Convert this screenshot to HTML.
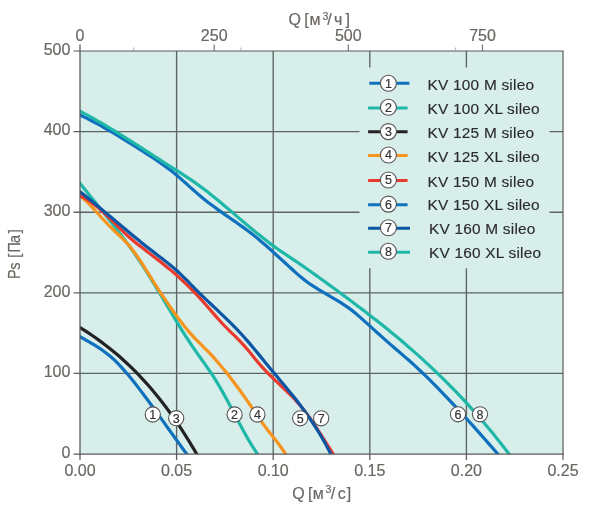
<!DOCTYPE html>
<html lang="ru">
<head>
<meta charset="utf-8">
<title>KV sileo</title>
<style>
html,body{margin:0;padding:0;background:#fff;}
body{width:600px;height:516px;overflow:hidden;}
svg{display:block;}
text{font-family:"Liberation Sans",sans-serif;}
.tick{font-size:16px;fill:#6b6763;stroke:#6b6763;stroke-width:0.2;}
.ttl{font-size:16px;fill:#6b6763;stroke:#6b6763;stroke-width:0.2;}
.leg{font-size:15.4px;fill:#2b2b2b;stroke:#2b2b2b;stroke-width:0.15;letter-spacing:0.22px;}
.num{font-size:12.5px;fill:#333;stroke:#333;stroke-width:0.2;text-anchor:middle;}
.grid{stroke:#5c6463;stroke-width:1.35;fill:none;}
.c{fill:none;stroke-width:3.2;stroke-linecap:butt;stroke-linejoin:round;}
</style>
</head>
<body>
<svg width="600" height="516" viewBox="0 0 600 516">
<rect x="0" y="0" width="600" height="516" fill="#fff"/>
<rect x="80.0" y="51.0" width="483.0" height="403.0" fill="#d8eeea"/>
<g class="grid">
<line x1="176.60" y1="51.0" x2="176.60" y2="460.0"/>
<line x1="273.20" y1="51.0" x2="273.20" y2="460.0"/>
<line x1="369.80" y1="51.0" x2="369.80" y2="460.0"/>
<line x1="466.40" y1="51.0" x2="466.40" y2="460.0"/>
<line x1="73.5" y1="373.40" x2="563.0" y2="373.40"/>
<line x1="73.5" y1="292.80" x2="563.0" y2="292.80"/>
<line x1="73.5" y1="212.20" x2="563.0" y2="212.20"/>
<line x1="73.5" y1="131.60" x2="563.0" y2="131.60"/>
</g>
<clipPath id="cp"><rect x="80.0" y="51.0" width="483.0" height="403.0"/></clipPath>
<g clip-path="url(#cp)">
<path class="c" stroke="#0f70bd" d="M76.00 334.43 C76.67 334.81 78.35 335.78 80.00 336.73 C81.65 337.68 83.95 339.00 85.93 340.14 C87.90 341.28 89.88 342.38 91.86 343.55 C93.83 344.72 95.81 345.89 97.78 347.16 C99.76 348.43 101.74 349.74 103.71 351.18 C105.69 352.62 107.66 354.14 109.64 355.80 C111.61 357.47 113.59 359.26 115.57 361.18 C117.54 363.10 119.52 365.15 121.49 367.30 C123.47 369.45 125.45 371.74 127.42 374.07 C129.40 376.40 131.37 378.84 133.35 381.31 C135.33 383.78 137.30 386.31 139.28 388.87 C141.25 391.44 143.23 394.06 145.21 396.70 C147.18 399.34 149.16 402.02 151.13 404.72 C153.11 407.42 155.09 410.15 157.06 412.89 C159.04 415.63 161.01 418.39 162.99 421.15 C164.96 423.91 166.94 426.69 168.92 429.45 C170.89 432.21 172.87 434.98 174.84 437.73 C176.82 440.47 178.80 443.21 180.77 445.92 C182.75 448.64 185.22 451.98 186.70 453.99 C188.18 456.00 189.15 457.32 189.64 457.99"/>
<path class="c" stroke="#222222" d="M76.00 324.95 C76.67 325.38 78.31 326.42 80.00 327.50 C81.69 328.58 84.09 330.08 86.14 331.41 C88.19 332.75 90.24 334.12 92.28 335.52 C94.33 336.93 96.38 338.37 98.43 339.85 C100.47 341.33 102.52 342.85 104.57 344.42 C106.62 345.98 108.66 347.58 110.71 349.23 C112.76 350.89 114.81 352.58 116.85 354.32 C118.90 356.07 120.95 357.86 122.99 359.71 C125.04 361.56 127.09 363.45 129.14 365.40 C131.18 367.36 133.23 369.36 135.28 371.43 C137.33 373.50 139.37 375.62 141.42 377.80 C143.47 379.99 145.52 382.23 147.56 384.55 C149.61 386.86 151.66 389.23 153.71 391.67 C155.75 394.12 157.80 396.63 159.85 399.21 C161.89 401.79 163.94 404.44 165.99 407.17 C168.04 409.90 170.08 412.70 172.13 415.57 C174.18 418.45 176.23 421.40 178.27 424.44 C180.32 427.48 182.37 430.59 184.42 433.79 C186.46 436.99 188.51 440.27 190.56 443.64 C192.61 447.01 195.28 451.61 196.70 454.01 C198.12 456.40 198.67 457.34 199.07 458.01"/>
<path class="c" stroke="#1fb8a8" d="M76.00 178.26 C76.67 179.10 78.35 181.21 80.00 183.29 C81.65 185.37 83.94 188.26 85.92 190.73 C87.89 193.19 89.86 195.63 91.83 198.08 C93.81 200.52 95.78 202.95 97.75 205.39 C99.72 207.83 101.69 210.27 103.67 212.73 C105.64 215.19 107.61 217.65 109.58 220.15 C111.56 222.64 113.53 225.15 115.50 227.70 C117.47 230.25 119.44 232.82 121.42 235.44 C123.39 238.06 125.36 240.71 127.33 243.42 C129.31 246.13 131.28 248.88 133.25 251.70 C135.22 254.52 137.19 257.39 139.17 260.34 C141.14 263.28 143.11 266.30 145.08 269.38 C147.06 272.46 149.03 275.63 151.00 278.83 C152.97 282.03 154.94 285.29 156.92 288.56 C158.89 291.84 160.86 295.16 162.83 298.47 C164.81 301.79 166.78 305.13 168.75 308.44 C170.72 311.75 172.69 315.07 174.67 318.34 C176.64 321.61 178.61 324.88 180.58 328.07 C182.56 331.26 184.53 334.42 186.50 337.48 C188.47 340.55 190.44 343.55 192.42 346.46 C194.39 349.36 196.36 352.13 198.33 354.91 C200.31 357.69 202.28 360.37 204.25 363.16 C206.22 365.94 208.19 368.70 210.17 371.64 C212.14 374.59 214.11 377.61 216.08 380.81 C218.06 384.02 220.03 387.40 222.00 390.88 C223.97 394.36 225.94 398.02 227.92 401.68 C229.89 405.35 231.86 409.13 233.83 412.86 C235.81 416.59 237.78 420.38 239.75 424.05 C241.72 427.72 243.69 431.39 245.67 434.88 C247.64 438.37 249.61 441.80 251.58 444.99 C253.56 448.18 256.08 451.84 257.50 454.01 C258.92 456.18 259.69 457.34 260.12 458.01"/>
<path class="c" stroke="#f7941e" d="M76.00 192.40 C76.67 192.96 78.33 194.37 80.00 195.79 C81.67 197.21 84.03 199.04 86.05 200.92 C88.06 202.80 90.08 204.93 92.09 207.07 C94.11 209.21 96.13 211.52 98.14 213.75 C100.16 215.99 102.17 218.31 104.19 220.48 C106.20 222.65 108.22 224.76 110.24 226.78 C112.25 228.79 114.27 230.63 116.28 232.56 C118.30 234.49 120.31 236.33 122.33 238.37 C124.35 240.42 126.36 242.48 128.38 244.82 C130.39 247.17 132.41 249.72 134.42 252.45 C136.44 255.17 138.45 258.14 140.47 261.16 C142.49 264.19 144.50 267.39 146.52 270.57 C148.53 273.75 150.55 277.05 152.56 280.26 C154.58 283.46 156.60 286.69 158.61 289.81 C160.63 292.93 162.64 295.98 164.66 298.97 C166.67 301.96 168.69 304.88 170.71 307.75 C172.72 310.61 174.74 313.42 176.75 316.16 C178.77 318.90 180.78 321.61 182.80 324.19 C184.82 326.76 186.83 329.27 188.85 331.62 C190.86 333.97 192.88 336.15 194.89 338.29 C196.91 340.43 198.93 342.40 200.94 344.43 C202.96 346.47 204.97 348.41 206.99 350.48 C209.00 352.55 211.02 354.64 213.04 356.85 C215.05 359.06 217.07 361.36 219.08 363.72 C221.10 366.09 223.11 368.54 225.13 371.05 C227.15 373.55 229.16 376.13 231.18 378.76 C233.19 381.39 235.21 384.08 237.22 386.81 C239.24 389.54 241.25 392.31 243.27 395.13 C245.29 397.96 247.30 400.83 249.32 403.76 C251.33 406.69 253.35 409.74 255.36 412.72 C257.38 415.69 259.40 418.76 261.41 421.60 C263.43 424.44 265.44 427.13 267.46 429.76 C269.47 432.39 271.49 434.81 273.51 437.39 C275.52 439.96 277.54 442.45 279.55 445.22 C281.57 447.99 284.13 451.86 285.60 453.99 C287.07 456.12 287.90 457.33 288.36 457.99"/>
<path class="c" stroke="#e93a30" d="M76.00 193.79 C76.67 194.12 78.33 194.96 80.00 195.80 C81.67 196.64 84.02 197.66 86.03 198.84 C88.04 200.02 90.05 201.39 92.06 202.86 C94.07 204.32 96.08 205.96 98.09 207.65 C100.10 209.34 102.10 211.17 104.11 213.02 C106.12 214.87 108.13 216.82 110.14 218.76 C112.15 220.70 114.16 222.71 116.17 224.67 C118.18 226.64 120.19 228.64 122.20 230.56 C124.21 232.49 126.22 234.40 128.23 236.22 C130.24 238.04 132.25 239.78 134.26 241.47 C136.27 243.16 138.28 244.75 140.29 246.34 C142.30 247.92 144.30 249.44 146.31 250.97 C148.32 252.50 150.33 253.99 152.34 255.51 C154.35 257.04 156.36 258.56 158.37 260.12 C160.38 261.69 162.39 263.27 164.40 264.90 C166.41 266.53 168.42 268.19 170.43 269.89 C172.44 271.59 174.45 273.32 176.46 275.11 C178.47 276.89 180.48 278.72 182.49 280.59 C184.50 282.47 186.50 284.39 188.51 286.37 C190.52 288.35 192.53 290.37 194.54 292.46 C196.55 294.55 198.56 296.70 200.57 298.90 C202.58 301.10 204.59 303.39 206.60 305.67 C208.61 307.96 210.62 310.30 212.63 312.60 C214.64 314.90 216.65 317.22 218.66 319.45 C220.67 321.69 222.68 323.90 224.69 326.00 C226.70 328.10 228.70 330.06 230.71 332.04 C232.72 334.02 234.73 335.86 236.74 337.87 C238.75 339.87 240.76 341.87 242.77 344.07 C244.78 346.27 246.79 348.68 248.80 351.08 C250.81 353.49 252.82 356.07 254.83 358.50 C256.84 360.93 258.85 363.39 260.86 365.66 C262.87 367.93 264.88 370.05 266.89 372.12 C268.90 374.18 270.90 376.12 272.91 378.06 C274.92 380.00 276.93 381.86 278.94 383.77 C280.95 385.68 282.96 387.56 284.97 389.51 C286.98 391.46 288.99 393.42 291.00 395.49 C293.01 397.55 295.02 399.66 297.03 401.91 C299.04 404.17 301.05 406.49 303.06 409.00 C305.07 411.50 307.08 414.16 309.09 416.94 C311.10 419.72 313.10 422.69 315.11 425.70 C317.12 428.70 319.13 431.85 321.14 434.98 C323.15 438.12 325.16 441.35 327.17 444.51 C329.18 447.68 331.77 451.75 333.20 454.00 C334.63 456.25 335.32 457.33 335.74 458.00"/>
<path class="c" stroke="#0b56a4" d="M76.00 188.47 C76.67 189.01 78.34 190.35 80.00 191.68 C81.66 193.02 83.98 194.86 85.97 196.47 C87.96 198.08 89.95 199.71 91.94 201.34 C93.93 202.97 95.92 204.61 97.91 206.26 C99.90 207.91 101.90 209.57 103.89 211.23 C105.88 212.89 107.87 214.56 109.86 216.23 C111.85 217.90 113.84 219.57 115.83 221.24 C117.82 222.91 119.81 224.58 121.80 226.24 C123.79 227.91 125.78 229.57 127.77 231.22 C129.76 232.88 131.75 234.53 133.74 236.17 C135.73 237.81 137.72 239.44 139.71 241.06 C141.70 242.68 143.70 244.29 145.69 245.88 C147.68 247.47 149.67 249.05 151.66 250.62 C153.65 252.18 155.64 253.71 157.63 255.25 C159.62 256.78 161.61 258.27 163.60 259.82 C165.59 261.36 167.58 262.89 169.57 264.51 C171.56 266.13 173.55 267.78 175.54 269.54 C177.53 271.30 179.52 273.16 181.51 275.07 C183.50 276.98 185.50 278.99 187.49 280.99 C189.48 282.99 191.47 285.05 193.46 287.06 C195.45 289.07 197.44 291.08 199.43 293.04 C201.42 295.00 203.41 296.92 205.40 298.83 C207.39 300.75 209.38 302.63 211.37 304.51 C213.36 306.40 215.35 308.27 217.34 310.16 C219.33 312.05 221.32 313.93 223.31 315.85 C225.30 317.77 227.30 319.70 229.29 321.67 C231.28 323.64 233.27 325.64 235.26 327.69 C237.25 329.75 239.24 331.84 241.23 334.00 C243.22 336.17 245.21 338.40 247.20 340.67 C249.19 342.95 251.18 345.30 253.17 347.66 C255.16 350.03 257.15 352.44 259.14 354.86 C261.13 357.27 263.12 359.72 265.11 362.15 C267.10 364.58 269.10 367.02 271.09 369.42 C273.08 371.83 275.07 374.21 277.06 376.59 C279.05 378.97 281.04 381.33 283.03 383.72 C285.02 386.11 287.01 388.50 289.00 390.93 C290.99 393.37 292.98 395.83 294.97 398.36 C296.96 400.88 298.95 403.45 300.94 406.10 C302.93 408.76 304.92 411.47 306.91 414.30 C308.90 417.12 310.90 420.02 312.89 423.06 C314.88 426.10 316.87 429.23 318.86 432.51 C320.85 435.80 322.84 439.20 324.83 442.77 C326.82 446.35 329.45 451.44 330.80 453.97 C332.15 456.50 332.58 457.30 332.93 457.97"/>
<path class="c" stroke="#0f70bd" d="M76.00 113.06 C76.67 113.38 78.34 114.20 80.00 115.01 C81.66 115.82 83.98 116.92 85.97 117.91 C87.96 118.91 89.95 119.93 91.94 120.97 C93.93 122.02 95.92 123.09 97.91 124.17 C99.90 125.26 101.88 126.37 103.87 127.50 C105.86 128.63 107.85 129.78 109.84 130.94 C111.83 132.10 113.82 133.29 115.81 134.48 C117.80 135.67 119.79 136.88 121.78 138.10 C123.77 139.31 125.76 140.55 127.75 141.78 C129.74 143.02 131.73 144.27 133.72 145.52 C135.71 146.77 137.70 148.03 139.69 149.30 C141.68 150.56 143.66 151.82 145.65 153.10 C147.64 154.37 149.63 155.65 151.62 156.96 C153.61 158.26 155.60 159.58 157.59 160.94 C159.58 162.30 161.57 163.68 163.56 165.11 C165.55 166.54 167.54 168.01 169.53 169.53 C171.52 171.06 173.51 172.63 175.50 174.26 C177.49 175.90 179.48 177.62 181.47 179.35 C183.46 181.09 185.44 182.89 187.43 184.68 C189.42 186.46 191.41 188.28 193.40 190.04 C195.39 191.80 197.38 193.57 199.37 195.26 C201.36 196.94 203.35 198.58 205.34 200.16 C207.33 201.75 209.32 203.27 211.31 204.77 C213.30 206.27 215.29 207.71 217.28 209.15 C219.27 210.59 221.26 211.98 223.25 213.38 C225.24 214.78 227.22 216.15 229.21 217.53 C231.20 218.92 233.19 220.29 235.18 221.68 C237.17 223.08 239.16 224.47 241.15 225.90 C243.14 227.33 245.13 228.77 247.12 230.26 C249.11 231.75 251.10 233.27 253.09 234.84 C255.08 236.41 257.07 238.03 259.06 239.69 C261.05 241.35 263.04 243.05 265.03 244.78 C267.02 246.50 269.00 248.27 270.99 250.05 C272.98 251.83 274.97 253.63 276.96 255.45 C278.95 257.26 280.94 259.09 282.93 260.92 C284.92 262.75 286.91 264.59 288.90 266.41 C290.89 268.23 292.88 270.07 294.87 271.83 C296.86 273.60 298.85 275.35 300.84 277.00 C302.83 278.64 304.82 280.22 306.81 281.70 C308.80 283.18 310.78 284.54 312.77 285.86 C314.76 287.19 316.75 288.41 318.74 289.63 C320.73 290.84 322.72 291.99 324.71 293.15 C326.70 294.31 328.69 295.42 330.68 296.58 C332.67 297.73 334.66 298.87 336.65 300.08 C338.64 301.28 340.63 302.50 342.62 303.80 C344.61 305.11 346.60 306.45 348.59 307.91 C350.58 309.36 352.56 310.91 354.55 312.52 C356.54 314.14 358.53 315.85 360.52 317.59 C362.51 319.32 364.50 321.13 366.49 322.92 C368.48 324.72 370.47 326.55 372.46 328.36 C374.45 330.18 376.44 331.99 378.43 333.79 C380.42 335.59 382.41 337.39 384.40 339.16 C386.39 340.92 388.38 342.68 390.37 344.41 C392.36 346.13 394.34 347.82 396.33 349.53 C398.32 351.23 400.31 352.91 402.30 354.62 C404.29 356.34 406.28 358.06 408.27 359.82 C410.26 361.58 412.25 363.37 414.24 365.19 C416.23 367.02 418.22 368.87 420.21 370.75 C422.20 372.63 424.19 374.54 426.18 376.47 C428.17 378.40 430.16 380.36 432.15 382.35 C434.14 384.33 436.12 386.34 438.11 388.37 C440.10 390.40 442.09 392.45 444.08 394.52 C446.07 396.59 448.06 398.69 450.05 400.80 C452.04 402.91 454.03 405.04 456.02 407.18 C458.01 409.33 460.00 411.49 461.99 413.67 C463.98 415.84 465.97 418.03 467.96 420.24 C469.95 422.44 471.94 424.66 473.93 426.88 C475.92 429.11 477.90 431.35 479.89 433.59 C481.88 435.84 483.87 438.10 485.86 440.36 C487.85 442.62 489.84 444.89 491.83 447.16 C493.82 449.44 496.22 452.19 497.80 454.00 C499.38 455.81 500.71 457.33 501.29 458.00"/>
<path class="c" stroke="#1fb8a8" d="M76.00 109.19 C76.67 109.54 78.34 110.42 80.00 111.29 C81.66 112.16 83.97 113.36 85.96 114.42 C87.94 115.49 89.93 116.57 91.92 117.67 C93.90 118.78 95.89 119.90 97.88 121.03 C99.86 122.17 101.85 123.32 103.83 124.49 C105.82 125.66 107.81 126.84 109.79 128.03 C111.78 129.22 113.76 130.43 115.75 131.65 C117.74 132.87 119.72 134.10 121.71 135.33 C123.69 136.57 125.68 137.82 127.67 139.07 C129.65 140.32 131.64 141.58 133.62 142.85 C135.61 144.11 137.60 145.39 139.58 146.66 C141.57 147.94 143.56 149.22 145.54 150.50 C147.53 151.78 149.51 153.06 151.50 154.34 C153.49 155.63 155.47 156.91 157.46 158.19 C159.44 159.47 161.43 160.76 163.42 162.03 C165.40 163.31 167.39 164.58 169.38 165.85 C171.36 167.12 173.35 168.38 175.33 169.64 C177.32 170.91 179.31 172.17 181.29 173.46 C183.28 174.74 185.26 176.03 187.25 177.35 C189.24 178.67 191.22 180.00 193.21 181.37 C195.19 182.75 197.18 184.14 199.17 185.59 C201.15 187.03 203.14 188.52 205.12 190.04 C207.11 191.56 209.10 193.13 211.08 194.71 C213.07 196.30 215.06 197.92 217.04 199.55 C219.03 201.18 221.01 202.84 223.00 204.51 C224.99 206.18 226.97 207.86 228.96 209.55 C230.94 211.23 232.93 212.93 234.92 214.63 C236.90 216.32 238.89 218.02 240.88 219.71 C242.86 221.40 244.85 223.09 246.83 224.77 C248.82 226.44 250.81 228.10 252.79 229.74 C254.78 231.39 256.76 233.01 258.75 234.61 C260.74 236.21 262.72 237.79 264.71 239.33 C266.69 240.88 268.68 242.39 270.67 243.87 C272.65 245.35 274.64 246.78 276.62 248.19 C278.61 249.59 280.60 250.96 282.58 252.31 C284.57 253.67 286.56 255.00 288.54 256.33 C290.53 257.66 292.51 258.98 294.50 260.31 C296.49 261.65 298.47 262.98 300.46 264.34 C302.44 265.70 304.43 267.08 306.42 268.47 C308.40 269.86 310.39 271.27 312.38 272.69 C314.36 274.11 316.35 275.54 318.33 276.97 C320.32 278.41 322.31 279.86 324.29 281.30 C326.28 282.75 328.26 284.19 330.25 285.65 C332.24 287.10 334.22 288.55 336.21 290.01 C338.19 291.47 340.18 292.93 342.17 294.40 C344.15 295.86 346.14 297.34 348.12 298.82 C350.11 300.29 352.10 301.78 354.08 303.27 C356.07 304.76 358.06 306.26 360.04 307.77 C362.03 309.28 364.01 310.80 366.00 312.32 C367.99 313.85 369.97 315.39 371.96 316.93 C373.94 318.48 375.93 320.04 377.92 321.60 C379.90 323.17 381.89 324.75 383.88 326.35 C385.86 327.94 387.85 329.55 389.83 331.17 C391.82 332.79 393.81 334.42 395.79 336.07 C397.78 337.72 399.76 339.39 401.75 341.07 C403.74 342.75 405.72 344.44 407.71 346.16 C409.69 347.87 411.68 349.60 413.67 351.35 C415.65 353.10 417.64 354.87 419.62 356.66 C421.61 358.45 423.60 360.25 425.58 362.08 C427.57 363.91 429.56 365.76 431.54 367.63 C433.53 369.50 435.51 371.39 437.50 373.30 C439.49 375.21 441.47 377.15 443.46 379.11 C445.44 381.07 447.43 383.06 449.42 385.07 C451.40 387.08 453.39 389.11 455.38 391.17 C457.36 393.23 459.35 395.32 461.33 397.43 C463.32 399.54 465.31 401.68 467.29 403.85 C469.28 406.02 471.26 408.22 473.25 410.45 C475.24 412.67 477.22 414.93 479.21 417.22 C481.19 419.50 483.18 421.82 485.17 424.17 C487.15 426.52 489.14 428.89 491.12 431.31 C493.11 433.72 495.10 436.16 497.08 438.64 C499.07 441.12 501.06 443.63 503.04 446.18 C505.03 448.73 507.49 451.97 509.00 453.93 C510.51 455.89 511.56 457.26 512.08 457.93"/>
</g>
<rect x="359.5" y="67.5" width="190" height="200.8" fill="#d8eeea"/>
<g class="grid" style="stroke:#5a5a5a;stroke-width:1.2">
<line x1="80.0" y1="44.5" x2="80.0" y2="460.0" style="stroke-width:1.3"/>
<line x1="73.5" y1="454.0" x2="563.7" y2="454.0" style="stroke-width:1.25;stroke:#5a5a5a"/>
<line x1="73.5" y1="51.0" x2="563.7" y2="51.0"/>
<line x1="563.0" y1="51.0" x2="563.0" y2="460.0"/>
</g>
<g stroke="#777" stroke-width="1.2">
<line x1="214.17" y1="44.5" x2="214.17" y2="51"/>
<line x1="348.33" y1="44.5" x2="348.33" y2="51"/>
<line x1="482.50" y1="44.5" x2="482.50" y2="51"/>
</g>
<g stroke="#aaa" stroke-width="1">
<line x1="133.67" y1="47.5" x2="133.67" y2="51"/>
<line x1="241.00" y1="47.5" x2="241.00" y2="51"/>
<line x1="455.67" y1="47.5" x2="455.67" y2="51"/>
</g>
<g class="tick" text-anchor="end">
<text x="70.4" y="457.7">0</text>
<text x="70.4" y="377.1">100</text>
<text x="70.4" y="296.5">200</text>
<text x="70.4" y="215.9">300</text>
<text x="70.4" y="135.3">400</text>
<text x="70.4" y="54.7">500</text>
</g>
<g class="tick" text-anchor="middle">
<text x="80.0" y="475.6">0.00</text>
<text x="176.6" y="475.6">0.05</text>
<text x="273.2" y="475.6">0.10</text>
<text x="369.8" y="475.6">0.15</text>
<text x="466.4" y="475.6">0.20</text>
<text x="563.0" y="475.6">0.25</text>
<text x="80.0" y="41">0</text>
<text x="214.2" y="41">250</text>
<text x="348.3" y="41">500</text>
<text x="482.5" y="41">750</text>
</g>
<text class="ttl" x="288.6 298 304.2 309.4 322.6 327.2 334 345.4" y="25.2">Q [м<tspan font-size="10.5" dy="-5.6">3</tspan><tspan dy="5.6">/ч]</tspan></text>
<text class="ttl" x="292.3 302 307.9 312.7 325.6 330.8 337.8 346.8" y="498.8">Q [м<tspan font-size="10.5" dy="-5.6">3</tspan><tspan dy="5.6">/с]</tspan></text>
<text class="ttl" transform="translate(20.4,253.3) rotate(-90) scale(0.9,1)" x="-28.5 -18.4 -10 -5 0.9 11.5 22.4" y="0">Ps [Па]</text>
<line x1="369.3" y1="83.2" x2="409.4" y2="83.2" stroke="#0f70bd" stroke-width="3"/>
<circle cx="388.4" cy="83.2" r="8" fill="#fff" stroke="#555" stroke-width="1.1"/>
<text class="num" x="388.4" y="87.6">1</text>
<text class="leg" x="427.6" y="90.1">KV 100 M sileo</text>
<line x1="368.1" y1="108.0" x2="407.6" y2="108.0" stroke="#1fb8a8" stroke-width="3"/>
<circle cx="388.4" cy="107.3" r="8" fill="#fff" stroke="#555" stroke-width="1.1"/>
<text class="num" x="388.4" y="111.7">2</text>
<text class="leg" x="427.6" y="113.9">KV 100 XL sileo</text>
<line x1="368.1" y1="131.8" x2="407.6" y2="131.8" stroke="#222222" stroke-width="3"/>
<circle cx="388.4" cy="131.6" r="8" fill="#fff" stroke="#555" stroke-width="1.1"/>
<text class="num" x="388.4" y="136.0">3</text>
<text class="leg" x="427.6" y="137.8">KV 125 M sileo</text>
<line x1="368.1" y1="155.5" x2="407.6" y2="155.5" stroke="#f7941e" stroke-width="3"/>
<circle cx="388.4" cy="155.0" r="8" fill="#fff" stroke="#555" stroke-width="1.1"/>
<text class="num" x="388.4" y="159.4">4</text>
<text class="leg" x="427.6" y="162.0">KV 125 XL sileo</text>
<line x1="368.1" y1="180.5" x2="407.6" y2="180.5" stroke="#e93a30" stroke-width="3"/>
<circle cx="388.4" cy="180.0" r="8" fill="#fff" stroke="#555" stroke-width="1.1"/>
<text class="num" x="388.4" y="184.4">5</text>
<text class="leg" x="427.6" y="187.4">KV 150 M sileo</text>
<line x1="368.1" y1="204.8" x2="407.6" y2="204.8" stroke="#0f70bd" stroke-width="3"/>
<circle cx="388.4" cy="204.1" r="8" fill="#fff" stroke="#555" stroke-width="1.1"/>
<text class="num" x="388.4" y="208.5">6</text>
<text class="leg" x="427.6" y="210.4">KV 150 XL sileo</text>
<line x1="368.1" y1="228.2" x2="410.0" y2="228.2" stroke="#0b56a4" stroke-width="3"/>
<circle cx="388.4" cy="227.7" r="8" fill="#fff" stroke="#555" stroke-width="1.1"/>
<text class="num" x="388.4" y="232.1">7</text>
<text class="leg" x="429.0" y="234.2">KV 160 M sileo</text>
<line x1="368.1" y1="252.2" x2="410.0" y2="252.2" stroke="#1fb8a8" stroke-width="3"/>
<circle cx="388.4" cy="251.2" r="8" fill="#fff" stroke="#555" stroke-width="1.1"/>
<text class="num" x="388.4" y="255.6">8</text>
<text class="leg" x="429.0" y="258.3">KV 160 XL sileo</text>
<circle cx="152.8" cy="414.5" r="7.6" fill="#fff" stroke="#555" stroke-width="1.1"/>
<text class="num" x="152.8" y="419.0">1</text>
<circle cx="176.2" cy="418.2" r="7.6" fill="#fff" stroke="#555" stroke-width="1.1"/>
<text class="num" x="176.2" y="422.7">3</text>
<circle cx="234.6" cy="414.5" r="7.6" fill="#fff" stroke="#555" stroke-width="1.1"/>
<text class="num" x="234.6" y="419.0">2</text>
<circle cx="257.4" cy="414.5" r="7.6" fill="#fff" stroke="#555" stroke-width="1.1"/>
<text class="num" x="257.4" y="419.0">4</text>
<circle cx="300.2" cy="418.3" r="7.6" fill="#fff" stroke="#555" stroke-width="1.1"/>
<text class="num" x="300.2" y="422.8">5</text>
<circle cx="321.2" cy="418.3" r="7.6" fill="#fff" stroke="#555" stroke-width="1.1"/>
<text class="num" x="321.2" y="422.8">7</text>
<circle cx="458.0" cy="414.3" r="7.6" fill="#fff" stroke="#555" stroke-width="1.1"/>
<text class="num" x="458.0" y="418.8">6</text>
<circle cx="480.0" cy="414.3" r="7.6" fill="#fff" stroke="#555" stroke-width="1.1"/>
<text class="num" x="480.0" y="418.8">8</text>
</svg>
</body>
</html>
